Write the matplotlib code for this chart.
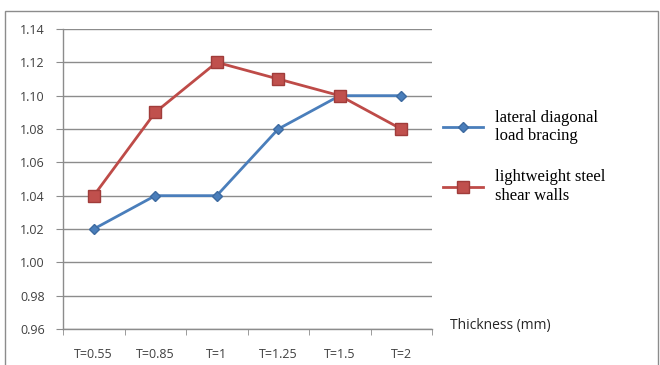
import matplotlib.pyplot as plt
from matplotlib.patches import Rectangle
import numpy as np

thickness = ['T=0.55', 'T=0.85', 'T=1', 'T=1.25', 'T=1.5', 'T=2']
bracing = [1.02, 1.04, 1.04, 1.08, 1.10, 1.10]
steel_walls = [1.04, 1.09, 1.12, 1.11, 1.10, 1.08]
yticks = [0.96, 0.98, 1.00, 1.02, 1.04, 1.06, 1.08, 1.10, 1.12, 1.14]

fig = plt.figure(figsize=(6.6, 3.65), dpi=100)
fig.patches.append(Rectangle((5 / 660, -0.01), 653 / 660, 1 - 11 / 365 + 0.01,
                             transform=fig.transFigure, fill=False,
                             edgecolor='#8c8c8c', linewidth=1.0))

ax = fig.add_axes([63 / 660, 1 - 329 / 365, 369 / 660, 300 / 365])
x = np.arange(len(thickness))

ax.plot(x, bracing, color='#4a7ebb', linewidth=2, marker='D', markersize=5,
        markerfacecolor='#4a7ebb', markeredgecolor='#3d6aa0', label='lateral diagonal\nload bracing')
ax.plot(x, steel_walls, color='#be4b48', linewidth=2, marker='s', markersize=8,
        markerfacecolor='#c0504d', markeredgecolor='#a03c3a', label='lightweight steel\nshear walls')

ax.set_xlim(-0.5, len(thickness) - 0.5)
ax.set_ylim(0.96, 1.14)
ax.set_yticks(yticks)
ax.set_yticklabels(['%.2f' % v for v in yticks])
ax.set_xticks(x)
ax.set_xticklabels(thickness)
ax.set_xticks(np.arange(-0.5, len(thickness)), minor=True)

ax.grid(axis='y', color='#8c8c8c', linewidth=1)
ax.set_axisbelow(True)
for side in ['top', 'right']:
    ax.spines[side].set_visible(False)
for side in ['left', 'bottom']:
    ax.spines[side].set_color('#8c8c8c')
    ax.spines[side].set_linewidth(1)

ax.tick_params(axis='x', which='major', length=0, pad=14, labelsize=9, labelcolor='#404040')
ax.tick_params(axis='x', which='minor', length=4, color='#8c8c8c', direction='out')
ax.tick_params(axis='y', length=5, color='#8c8c8c', pad=8, labelsize=9, labelcolor='#404040')
for lbl in ax.get_xticklabels() + ax.get_yticklabels():
    lbl.set_family('Open Sans')

leg = ax.legend(loc='upper left', bbox_to_anchor=(0.99, 0.78), frameon=False,
                prop={'family': 'Liberation Serif', 'size': 12}, labelspacing=1.5,
                handlelength=2.4, handletextpad=0.7)

fig.text(450 / 660, 1 - 326 / 365, 'Thickness (mm)', family='Open Sans', fontsize=10,
         color='#262626', va='center')

fig.savefig('out.png')
